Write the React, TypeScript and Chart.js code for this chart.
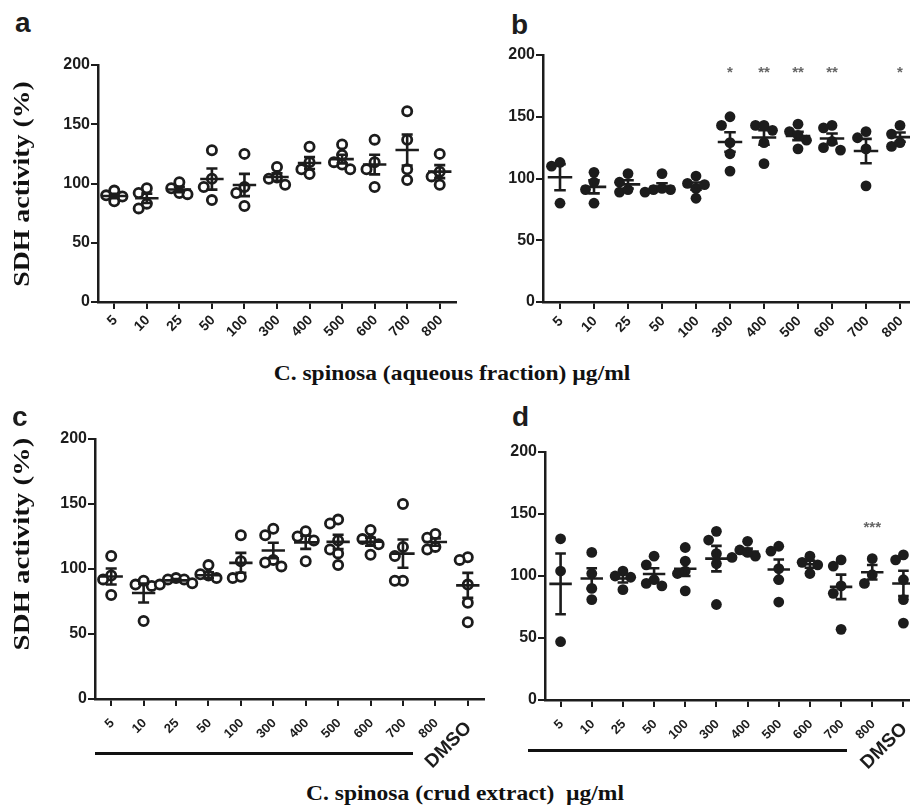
import React, { useEffect, useRef } from 'react';
import { Chart, registerables } from 'chart.js';

Chart.register(...registerables);

const SANS = '"Liberation Sans", Arial, sans-serif';
const SERIF = '"Liberation Serif", "Times New Roman", serif';
const INK = '#1c1c1c';
const STAR = '#666666';

// ---------- data ----------
const aqueousLabels = ['5', '10', '25', '50', '100', '300', '400', '500', '600', '700', '800'];
const crudeLabels = ['5', '10', '25', '50', '100', '300', '400', '500', '600', '700', '800', 'DMSO'];

const panelAValues: number[][] = [
  [94, 85, 89, 90],
  [96, 92, 79, 83],
  [101, 96, 92, 91],
  [128, 86, 97, 104],
  [125, 81, 92, 97],
  [114, 99, 104, 105],
  [131, 118, 108, 112],
  [133, 124, 112, 116, 118],
  [137, 118, 97, 112],
  [161, 137, 103, 112],
  [125, 99, 106, 110],
];

const panelBValues: number[][] = [
  [113, 110, 80],
  [105, 97, 91, 80],
  [104, 97, 89, 91],
  [104, 91, 89, 91, 92],
  [102, 96, 92, 84, 95],
  [150, 143, 129, 120, 106],
  [143, 143, 139, 129, 112],
  [144, 138, 135, 124, 131],
  [143, 141, 130, 125, 123],
  [133, 138, 124, 94],
  [143, 136, 126, 129],
];
const panelBStars = ['', '', '', '', '', '*', '**', '**', '**', '', '*'];
const panelBStarLevel = 188;

const panelCValues: number[][] = [
  [110, 95, 80, 92],
  [87, 88, 91, 60],
  [93, 88, 92, 92],
  [103, 95, 89, 93, 96],
  [126, 93, 94, 106],
  [131, 126, 107, 102, 105],
  [129, 125, 106, 122],
  [138, 135, 115, 103, 112, 122],
  [130, 119, 122, 111, 123],
  [150, 117, 110, 91, 91],
  [124, 127, 115, 117],
  [109, 107, 88, 74, 59],
];

const panelDValues: number[][] = [
  [130, 104, 47],
  [119, 102, 90, 81],
  [104, 100, 89, 99],
  [116, 109, 92, 94, 97],
  [123, 112, 102, 88, 104],
  [136, 129, 110, 77, 118],
  [128, 121, 116, 115, 119],
  [124, 120, 106, 97, 79],
  [116, 102, 109, 111],
  [113, 108, 92, 86, 57],
  [114, 94, 101],
  [117, 113, 97, 81, 62],
];
const panelDStars = ['', '', '', '', '', '', '', '', '', '', '***', ''];
const panelDStarLevel = 141;

const yTicks = [0, 50, 100, 150, 200];

// ---------- helpers ----------
function swarmOffsets(vals: number[], step: number, thr: number): number[] {
  const order = vals.map((_, i) => i).sort((i, j) => vals[j] - vals[i]);
  const offs = new Array(vals.length).fill(0);
  const placed: number[] = [];
  const cands = [0, -1, 1, -2, 2, -3, 3];
  for (const i of order) {
    for (const c of cands) {
      const ok = placed.every(
        (j) => Math.abs(vals[j] - vals[i]) >= thr || Math.abs(offs[j] - c * step) > step * 0.5
      );
      if (ok) {
        offs[i] = c * step;
        break;
      }
    }
    placed.push(i);
  }
  return offs;
}

function makeMeanSemPlugin(groups: number[][]) {
  return {
    id: 'meanSem',
    afterDatasetsDraw(chart: any) {
      const { x, y } = chart.scales;
      const ctx = chart.ctx;
      ctx.save();
      ctx.strokeStyle = INK;
      ctx.lineWidth = 2.6;
      groups.forEach((g, i) => {
        const n = g.length;
        const m = g.reduce((a, b) => a + b, 0) / n;
        const sd = Math.sqrt(g.reduce((a, b) => a + (b - m) * (b - m), 0) / (n - 1));
        const se = sd / Math.sqrt(n);
        const xc = x.getPixelForValue(i);
        const ym = y.getPixelForValue(m);
        const yt = y.getPixelForValue(m + se);
        const yb = y.getPixelForValue(m - se);
        const mh = x.getPixelForValue(i + 0.36) - xc;
        const ch = x.getPixelForValue(i + 0.17) - xc;
        ctx.beginPath();
        ctx.moveTo(xc - mh, ym);
        ctx.lineTo(xc + mh, ym);
        ctx.moveTo(xc, yt);
        ctx.lineTo(xc, yb);
        ctx.moveTo(xc - ch, yt);
        ctx.lineTo(xc + ch, yt);
        ctx.moveTo(xc - ch, yb);
        ctx.lineTo(xc + ch, yb);
        ctx.stroke();
      });
      ctx.restore();
    },
  };
}

function makeStarsPlugin(stars: string[] | undefined, level: number) {
  return {
    id: 'stars',
    afterDatasetsDraw(chart: any) {
      if (!stars) return;
      const { x, y } = chart.scales;
      const ctx = chart.ctx;
      ctx.save();
      ctx.fillStyle = STAR;
      ctx.font = `bold 15px ${SANS}`;
      ctx.textAlign = 'center';
      ctx.textBaseline = 'middle';
      stars.forEach((s, i) => {
        if (s) ctx.fillText(s, x.getPixelForValue(i), y.getPixelForValue(level) + 3);
      });
      ctx.restore();
    },
  };
}

// rotated (45°) category labels, anchored at each tick of the x scale
function makeTickLabelPlugin(labels: string[], size: number, bigSize: number, dy: number) {
  return {
    id: 'tickLabels',
    afterDraw(chart: any) {
      const x = chart.scales.x;
      const ctx = chart.ctx;
      ctx.save();
      ctx.fillStyle = INK;
      ctx.textAlign = 'right';
      ctx.textBaseline = 'middle';
      labels.forEach((lab, i) => {
        const big = lab === 'DMSO';
        ctx.font = `bold ${big ? bigSize : size}px ${SANS}`;
        ctx.save();
        ctx.translate(x.getPixelForValue(i) + 1, x.top + dy + (big ? 4 : 0));
        ctx.rotate(-Math.PI / 4);
        ctx.fillText(lab, 0, 0);
        ctx.restore();
      });
      ctx.restore();
    },
  };
}

type PanelProps = {
  left: number;
  top: number;
  width: number;
  height: number;
  yWidth: number;
  xHeight: number;
  padTop: number;
  padRight: number;
  labels: string[];
  groups: number[][];
  filled: boolean;
  xFont: number;
  xDy: number;
  stars?: string[];
  starLevel?: number;
};

function Panel(p: PanelProps) {
  const ref = useRef<HTMLCanvasElement>(null);
  useEffect(() => {
    if (!ref.current) return;
    const pts: { x: number; y: number }[] = [];
    p.groups.forEach((g, i) => {
      const offs = swarmOffsets(g, 0.25, 8);
      g.forEach((v, k) => pts.push({ x: i + offs[k], y: v }));
    });
    const gridOpts = {
      display: true,
      drawOnChartArea: false,
      drawTicks: true,
      tickLength: 7,
      lineWidth: 2,
      color: INK,
    };
    const borderOpts = { display: true, color: INK, width: 2.5 };
    const chart = new Chart(ref.current, {
      type: 'scatter',
      data: {
        datasets: [
          {
            data: pts,
            pointRadius: p.filled ? 5.4 : 4.6,
            pointBorderWidth: p.filled ? 0 : 2.8,
            pointBackgroundColor: p.filled ? INK : '#ffffff',
            pointBorderColor: INK,
            pointHoverRadius: p.filled ? 5.4 : 4.6,
          },
        ],
      },
      options: {
        animation: false,
        responsive: false,
        devicePixelRatio: 1,
        events: [],
        layout: { padding: { top: p.padTop, right: p.padRight, left: 0, bottom: 0 } },
        plugins: { legend: { display: false }, tooltip: { enabled: false } },
        scales: {
          x: {
            type: 'linear',
            min: -0.5,
            max: p.labels.length - 0.5,
            afterBuildTicks: (s: any) => {
              s.ticks = p.labels.map((_, i) => ({ value: i }));
            },
            afterFit: (s: any) => {
              s.height = p.xHeight;
            },
            ticks: { display: false, autoSkip: false },
            grid: gridOpts,
            border: borderOpts,
          },
          y: {
            type: 'linear',
            min: 0,
            max: 200,
            afterBuildTicks: (s: any) => {
              s.ticks = yTicks.map((v) => ({ value: v }));
            },
            afterFit: (s: any) => {
              s.width = p.yWidth;
            },
            ticks: {
              padding: 1,
              color: INK,
              font: { family: SANS, size: 16, weight: 'bold' },
            },
            grid: gridOpts,
            border: borderOpts,
          },
        },
      } as any,
      plugins: [
        makeMeanSemPlugin(p.groups),
        makeStarsPlugin(p.stars, p.starLevel ?? 0),
        makeTickLabelPlugin(p.labels, p.xFont, 19, p.xDy),
      ],
    });
    return () => chart.destroy();
  }, []);
  return (
    <canvas
      ref={ref}
      width={p.width}
      height={p.height}
      style={{ position: 'absolute', left: p.left, top: p.top, width: p.width, height: p.height }}
    />
  );
}

const letterStyle = (left: number, top: number): React.CSSProperties => ({
  position: 'absolute',
  left,
  top,
  fontFamily: SANS,
  fontWeight: 'bold',
  fontSize: 28,
  lineHeight: 1,
  color: INK,
});

const yTitleStyle = (cx: number, cy: number, stretch: number): React.CSSProperties => ({
  position: 'absolute',
  left: cx,
  top: cy,
  transform: `translate(-50%, -50%) rotate(-90deg) scaleX(${stretch})`,
  fontFamily: SERIF,
  fontWeight: 'bold',
  fontSize: 24,
  lineHeight: 1,
  whiteSpace: 'nowrap',
  color: '#111',
});

const xTitleStyle = (cx: number, cy: number): React.CSSProperties => ({
  position: 'absolute',
  left: cx,
  top: cy,
  transform: 'translate(-50%, -50%) scaleX(1.12)',
  fontFamily: SERIF,
  fontWeight: 'bold',
  fontSize: 21,
  lineHeight: 1,
  whiteSpace: 'pre',
  color: '#111',
});

const barStyle = (left: number, top: number, width: number): React.CSSProperties => ({
  position: 'absolute',
  left,
  top,
  width,
  height: 3,
  background: '#111',
});

export default function App() {
  return (
    <div
      style={{
        position: 'absolute',
        left: 0,
        top: 0,
        width: 910,
        height: 809,
        overflow: 'hidden',
        background: '#ffffff',
      }}
    >
      <Panel left={0} top={50} width={470} height={310} yWidth={98} xHeight={58} padTop={15} padRight={14}
        labels={aqueousLabels} groups={panelAValues} filled={false} xFont={14} xDy={16} />
      <Panel left={445} top={40} width={486} height={320} yWidth={98} xHeight={58} padTop={15} padRight={14}
        labels={aqueousLabels} groups={panelBValues} filled={true} xFont={14} xDy={17}
        stars={panelBStars} starLevel={panelBStarLevel} />
      <Panel left={0} top={425} width={498} height={347} yWidth={95} xHeight={73} padTop={14} padRight={14}
        labels={crudeLabels} groups={panelCValues} filled={false} xFont={13} xDy={22} />
      <Panel left={447} top={435} width={486} height={337} yWidth={98} xHeight={72} padTop={17} padRight={14}
        labels={crudeLabels} groups={panelDValues} filled={true} xFont={13} xDy={22}
        stars={panelDStars} starLevel={panelDStarLevel} />

      <div style={letterStyle(15, 9)}>a</div>
      <div style={letterStyle(511, 11)}>b</div>
      <div style={letterStyle(12, 403)}>c</div>
      <div style={letterStyle(512, 403)}>d</div>

      <div style={yTitleStyle(21, 184, 1.16)}>SDH activity (%)</div>
      <div style={yTitleStyle(21, 544, 1.2)}>SDH activity (%)</div>

      <div style={xTitleStyle(452, 373)}>C. spinosa (aqueous fraction) µg/ml</div>
      <div style={xTitleStyle(465, 793)}>C. spinosa (crud extract)  µg/ml</div>

      <div style={barStyle(95, 752, 318)} />
      <div style={barStyle(528, 749, 319)} />
    </div>
  );
}
